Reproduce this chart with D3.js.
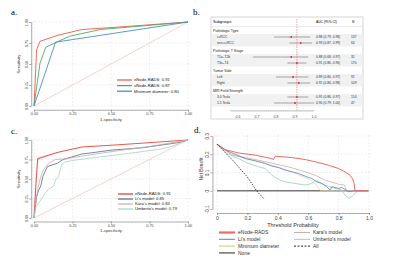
<!DOCTYPE html>
<html>
<head>
<meta charset="utf-8">
<script src="https://cdn.jsdelivr.net/npm/d3@7"></script>
<style>
  body { margin: 0; background: #fff; }
  svg { display: block; font-family: "Liberation Sans", Arial, sans-serif; }
  .grid line { stroke: #dcdcdc; stroke-width: 0.5; stroke-dasharray: 2,1.5; }
  .ax path, .ax line { stroke: #555; stroke-width: 0.5; }
  .ax text { fill: #444; }
</style>
</head>
<body>
<svg id="fig"></svg>
<script>
// ---- panel a: ROC, eNode-RADS vs uNode-RADS vs minimum diameter
const rocTicks = [0, 0.25, 0.5, 0.75, 1];
const aNames = ["eNode-RADS: 0.91", "uNode-RADS: 0.87", "Minimum diameter: 0.80"];
const aColors = ["#f26b5b", "#55a860", "#4a8fc9"];
const aEnodeFpr = [0, 0.017, 0.039, 0.15, 0.31, 0.55, 1];
const aEnodeTpr = [0, 0.67, 0.77, 0.84, 0.91, 0.94, 1];
const aUnodeFpr = [0, 0.039, 0.076, 0.23, 0.43, 1];
const aUnodeTpr = [0, 0.51, 0.70, 0.83, 0.91, 1];
const aDiamFpr = [0, 0.14, 1];
const aDiamTpr = [0, 0.76, 1];

// ---- panel c: ROC, eNode-RADS vs published models
const cNames = ["eNode-RADS: 0.91", "Li's model: 0.85", "Kara's model: 0.84", "Umberto's model: 0.79"];
const cColors = ["#f0574a", "#4c6b8e", "#c9a9a9", "#9fd6c0"];
const cEnodeFpr = [0, 0.013, 0.024, 0.15, 0.31, 0.55, 1];
const cEnodeTpr = [0, 0.45, 0.76, 0.84, 0.91, 0.94, 1];
const cLiFpr = [0, 0.007, 0.018, 0.029, 0.044, 0.057, 0.073, 0.088, 0.117, 0.15, 0.19, 0.24, 0.31, 0.39, 0.50, 0.70, 0.81, 0.95, 1];
const cLiTpr = [0, 0.12, 0.28, 0.35, 0.41, 0.53, 0.60, 0.66, 0.68, 0.70, 0.75, 0.78, 0.82, 0.84, 0.87, 0.90, 0.93, 0.97, 1];
const cKaraFpr = [0, 0.013, 0.029, 0.044, 0.062, 0.095, 0.14, 0.215, 0.30, 0.50, 0.76, 1];
const cKaraTpr = [0, 0.24, 0.41, 0.53, 0.62, 0.70, 0.75, 0.76, 0.79, 0.85, 0.92, 1];
const cUmbFpr = [0, 0.013, 0.040, 0.066, 0.095, 0.128, 0.14, 0.16, 0.17, 0.18, 0.20, 0.26, 0.37, 0.50, 0.66, 0.81, 0.90, 0.96, 1];
const cUmbTpr = [0, 0.14, 0.22, 0.30, 0.37, 0.41, 0.49, 0.53, 0.62, 0.68, 0.72, 0.74, 0.77, 0.80, 0.84, 0.88, 0.92, 0.97, 1];

// ---- panel b: forest plot of subgroups
const forestGroups = ["Pathologic Type", "Pathologic T Stage", "Tumor Side", "MRI Field Strength"];
const forestLabels = [["ccRCC", "non-ccRCC"], ["T1a\u2013T2b", "T3a\u2013T4"], ["Left", "Right"], ["3.0 Tesla", "1.5 Tesla"]];
const forestAuc = [[0.88, 0.93], [0.88, 0.91], [0.89, 0.92], [0.91, 0.90]];
const forestLow = [[0.79, 0.87], [0.68, 0.86], [0.80, 0.86], [0.86, 0.79]];
const forestHigh = [[0.98, 0.99], [0.97, 0.96], [0.97, 0.98], [0.97, 1.00]];
const forestN = [[137, 64], [31, 170], [92, 109], [154, 47]];
const forestRef = 0.91;
const forestTicks = [0.6, 0.7, 0.8, 0.9, 1.0];

// ---- panel d: decision curves
const dThr = [0, 0.055, 0.142, 0.252, 0.361, 0.372, 0.379, 0.387, 0.492, 0.58, 0.667, 0.733, 0.799, 0.842, 0.875, 0.891, 0.902, 0.908, 0.996];
const dEnode = [0.255, 0.225, 0.207, 0.195, 0.176, 0.171, 0.185, 0.189, 0.182, 0.171, 0.155, 0.14, 0.122, 0.104, 0.085, 0.067, 0.04, 0, 0];
const dLiThr = [0, 0.055, 0.12, 0.186, 0.252, 0.317, 0.361, 0.405, 0.449, 0.492, 0.536, 0.58, 0.624, 0.656, 0.689, 0.722, 0.744, 0.755, 0.777, 0.799, 0.821, 0.842, 0.864, 0.886, 0.908, 0.996];
const dLi = [0.255, 0.222, 0.2, 0.176, 0.164, 0.149, 0.135, 0.127, 0.113, 0.104, 0.095, 0.08, 0.067, 0.049, 0.04, 0.022, 0.004, 0.022, 0.018, 0.013, 0.018, 0.007, -0.005, -0.002, 0, 0];
const dDiamThr = [0, 0.1, 0.2, 0.3, 0.4, 0.5, 0.6, 0.65, 0.68, 0.996];
const dDiam = [0.255, 0.2, 0.175, 0.155, 0.13, 0.1, 0.065, 0.035, 0, 0];
const dKaraThr = [0, 0.098, 0.252, 0.47, 0.58, 0.646, 0.711, 0.799, 0.838, 0.853, 0.996];
const dKara = [0.255, 0.195, 0.171, 0.131, 0.104, 0.085, 0.058, 0.036, 0.031, 0, 0];
const dUmbThr = [0, 0.066, 0.142, 0.208, 0.274, 0.317, 0.339, 0.361, 0.405, 0.449, 0.514, 0.58, 0.624, 0.646, 0.668, 0.711, 0.755, 0.821, 0.842, 0.869, 0.898, 0.919, 0.996];
const dUmb = [0.255, 0.204, 0.176, 0.149, 0.131, 0.122, 0.104, 0.085, 0.062, 0.049, 0.04, 0.031, 0.04, 0.058, 0.049, 0.031, 0.018, 0.004, -0.024, -0.042, -0.024, -0.005, 0];
const dAllThr = [0, 0.1, 0.2, 0.26, 0.31];
const dAll = [0.255, 0.17, 0.075, 0, -0.045];
const dNoneThr = [0, 0.996];
const dNone = [0, 0];
const dXTicks = [0, 0.2, 0.4, 0.6, 0.8, 1.0];
const dYTicks = [-0.1, 0, 0.1, 0.2, 0.3];
const dNames = ["eNode-RADS", "Li's model", "Minimum diameter", "None", "Kara's model", "Umberto's model", "All"];
const dColors = ["#f26a5e", "#5a7fcf", "#e4dbaa", "#777777", "#d3abab", "#8fd4b6", "#222222"];

const zip = (xs, ys) => xs.map((x, i) => ({x: x, y: ys[i]}));

const svg = d3.select('#fig').attr('width', 400).attr('height', 263);
svg.append('rect').attr('width', 400).attr('height', 263).attr('fill', '#fff');

function panelLabel(txt, x, y) {
    svg.append('text')
        .attr('x', x).attr('y', y)
        .style('font-family', '"Liberation Serif", serif')
        .style('font-size', '9px')
        .text(txt);
}

function drawRoc(cfg) {
    const g = svg.append('g');
    const xs = d3.scaleLinear().domain([0, 1]).range(cfg.xr);
    const ys = d3.scaleLinear().domain([0, 1]).range(cfg.yr);

    // dashed grid
    const grid = g.append('g').attr('class', 'grid');
    grid.selectAll('.gx').data(rocTicks).join('line')
        .attr('x1', d => xs(d)).attr('x2', d => xs(d))
        .attr('y1', ys(1.02)).attr('y2', ys(-0.02));
    grid.selectAll('.gy').data(rocTicks).join('line')
        .attr('class', 'gy')
        .attr('x1', xs(-0.02)).attr('x2', xs(1.02))
        .attr('y1', d => ys(d)).attr('y2', d => ys(d));

    const xaxis = d3.axisBottom(xs).tickValues(rocTicks).tickFormat(d3.format('.2f'))
        .tickSize(2).tickSizeOuter(0).tickPadding(0.8);
    const yaxis = d3.axisLeft(ys).tickValues(rocTicks).tickFormat(d3.format('.2f'))
        .tickSize(2).tickSizeOuter(0);

    g.append('g').attr('class', 'ax')
        .attr('transform', `translate(0, ${ys(-0.045)})`)
        .call(xaxis)
        .call(a => a.selectAll('text').style('font-size', '3.8px'));
    g.append('g').attr('class', 'ax')
        .attr('transform', `translate(${xs(-0.018)}, 0)`)
        .call(yaxis)
        .call(a => a.selectAll('text').style('font-size', '3.8px')
            .attr('text-anchor', 'middle').attr('dy', 0)
            .attr('transform', 'rotate(-90)')
            .attr('x', 0).attr('y', -3.2));

    g.append('text')
        .attr('x', (cfg.xr[0] + cfg.xr[1]) / 2).attr('y', ys(-0.16)).attr('dy', '0.35em')
        .attr('text-anchor', 'middle').style('font-size', '4.2px').attr('fill', '#333')
        .text('1-specificity');
    g.append('text')
        .attr('transform', 'rotate(-90)')
        .attr('x', -(cfg.yr[0] + cfg.yr[1]) / 2).attr('y', xs(-0.09))
        .attr('text-anchor', 'middle').style('font-size', '4.2px').attr('fill', '#333')
        .text('Sensitivity');

    // chance diagonal
    g.append('line')
        .attr('x1', xs(0)).attr('y1', ys(0)).attr('x2', xs(1)).attr('y2', ys(1))
        .attr('stroke', '#fbc3c3').attr('stroke-width', 0.8);

    const line = d3.line().x(d => xs(d.x)).y(d => ys(d.y));
    cfg.series.forEach((s, i) => {
        g.append('path')
            .attr('d', line(s))
            .attr('fill', 'none')
            .attr('stroke', cfg.colors[i])
            .attr('stroke-width', cfg.widths[i]);
    });

    // legend
    const leg = g.append('g');
    cfg.names.forEach((n, i) => {
        const y = cfg.legY + i * cfg.legStep;
        leg.append('line')
            .attr('x1', cfg.legX).attr('x2', cfg.legX + 15)
            .attr('y1', y).attr('y2', y)
            .attr('stroke', cfg.colors[i]).attr('stroke-width', cfg.widths[i] + 0.4);
        leg.append('text')
            .attr('x', cfg.legX + 17).attr('y', y).attr('dy', '0.35em')
            .style('font-size', '4.2px').attr('fill', '#222')
            .text(n);
    });
}

drawRoc({
    xr: [34, 188], yr: [106, 22],
    series: [zip(aEnodeFpr, aEnodeTpr), zip(aUnodeFpr, aUnodeTpr), zip(aDiamFpr, aDiamTpr)],
    colors: aColors, widths: [1, 0.9, 0.9], names: aNames,
    legX: 117, legY: 80, legStep: 5.6
});

drawRoc({
    xr: [34, 188], yr: [218, 140],
    series: [zip(cEnodeFpr, cEnodeTpr), zip(cLiFpr, cLiTpr), zip(cKaraFpr, cKaraTpr), zip(cUmbFpr, cUmbTpr)],
    colors: cColors, widths: [1.1, 0.8, 0.8, 0.8], names: cNames,
    legX: 118, legY: 194, legStep: 5
});

// ---- forest plot
(function () {
    const g = svg.append('g');
    const xs = d3.scaleLinear().domain([0.6, 1.0]).range([238, 314]);
    const box = {x: 211, y: 17, w: 152, h: 102};
    g.append('rect')
        .attr('x', box.x).attr('y', box.y).attr('width', box.w).attr('height', box.h)
        .attr('fill', '#fff').attr('stroke', '#aaa').attr('stroke-width', 0.5);

    const fs = '3.3px';
    g.append('text').attr('x', 213).attr('y', 22).attr('dy', '0.35em').style('font-size', '3.8px').text('Subgroups');
    g.append('text').attr('x', 316).attr('y', 22).attr('dy', '0.35em').style('font-size', fs).text('AUC (95% CI)');
    g.append('text').attr('x', 352).attr('y', 22).attr('dy', '0.35em').style('font-size', fs).text('N');
    g.append('line').attr('x1', box.x).attr('x2', box.x + box.w).attr('y1', 26.5).attr('y2', 26.5)
        .attr('stroke', '#ccc').attr('stroke-width', 0.4);

    forestGroups.forEach((grp, gi) => {
        const gy = 31 + gi * 20;
        g.append('text').attr('x', 213).attr('y', gy).attr('dy', '0.35em')
            .style('font-size', '3.6px').attr('fill', '#222').text(grp);
        g.append('rect').attr('x', box.x + 0.5).attr('width', box.w - 1)
            .attr('y', gy + 3).attr('height', 12.5).attr('fill', '#f1f1f1');
        forestLabels[gi].forEach((lab, li) => {
            const y = gy + 6 + li * 6;
            g.append('text').attr('x', 217).attr('y', y).attr('dy', '0.35em')
                .style('font-size', fs).attr('fill', '#333').text(lab);
            const a = forestAuc[gi][li], lo = forestLow[gi][li], hi = forestHigh[gi][li];
            g.append('line').attr('x1', xs(lo)).attr('x2', xs(hi)).attr('y1', y).attr('y2', y)
                .attr('stroke', '#555').attr('stroke-width', 0.5);
            g.append('rect').attr('x', xs(a) - 0.8).attr('y', y - 0.8).attr('width', 1.6).attr('height', 1.6)
                .attr('fill', '#d6213a');
            g.append('text').attr('x', 316).attr('y', y).attr('dy', '0.35em')
                .style('font-size', fs).attr('fill', '#333')
                .text(`${a.toFixed(2)} (${lo.toFixed(2)}, ${hi.toFixed(2)})`);
            g.append('text').attr('x', 351).attr('y', y).attr('dy', '0.35em')
                .style('font-size', fs).attr('fill', '#333').text(forestN[gi][li]);
        });
    });

    g.append('line')
        .attr('x1', xs(forestRef)).attr('x2', xs(forestRef))
        .attr('y1', 19).attr('y2', 110)
        .attr('stroke', '#e8485a').attr('stroke-width', 0.5).attr('stroke-dasharray', '1.5,1');

    // axis with fine minor ticks
    const minor = d3.range(56, 101).map(d => d / 100);
    const ax = g.append('g').attr('transform', 'translate(0, 111)');
    ax.append('line').attr('x1', xs(0.56)).attr('x2', xs(1.0)).attr('stroke', '#777').attr('stroke-width', 0.4);
    ax.selectAll('.mt').data(minor).join('line')
        .attr('x1', d => xs(d)).attr('x2', d => xs(d)).attr('y1', -1).attr('y2', 0)
        .attr('stroke', '#777').attr('stroke-width', 0.3);
    ax.selectAll('.tl').data(forestTicks).join('text')
        .attr('x', d => xs(d)).attr('y', 6.5)
        .attr('text-anchor', 'middle').style('font-size', '3.5px').attr('fill', '#444')
        .text(d => d.toFixed(1));
})();

// ---- decision curve
(function () {
    const g = svg.append('g');
    const xs = d3.scaleLinear().domain([0, 1]).range([217, 369]);
    const ys = d3.scaleLinear().domain([-0.1, 0.3]).range([209, 136]);

    const grid = g.append('g').attr('class', 'grid');
    grid.selectAll('.gx').data(dXTicks).join('line')
        .attr('x1', d => xs(d)).attr('x2', d => xs(d))
        .attr('y1', ys(0.305)).attr('y2', ys(-0.11));
    grid.selectAll('.gy').data(dYTicks).join('line')
        .attr('class', 'gy')
        .attr('x1', xs(-0.02)).attr('x2', xs(1.02))
        .attr('y1', d => ys(d)).attr('y2', d => ys(d));

    g.append('g').attr('class', 'ax')
        .attr('transform', `translate(0, ${ys(-0.122)})`)
        .call(d3.axisBottom(xs).tickValues(dXTicks).tickFormat(d => d === 0 ? '0' : d.toFixed(1))
            .tickSize(2).tickSizeOuter(0).tickPadding(1))
        .call(a => a.selectAll('text').style('font-size', '5px'));
    g.append('g').attr('class', 'ax')
        .attr('transform', `translate(${xs(-0.03)}, 0)`)
        .call(d3.axisLeft(ys).tickValues(dYTicks).tickFormat(d => d === 0 ? '0' : d.toFixed(1))
            .tickSize(2).tickSizeOuter(0))
        .call(a => a.selectAll('text').style('font-size', '4.8px')
            .attr('text-anchor', 'middle').attr('dy', 0)
            .attr('transform', 'rotate(-90)')
            .attr('x', 0).attr('y', -3.5));

    g.append('text')
        .attr('x', xs(0.5)).attr('y', 225).attr('dy', '0.35em')
        .attr('text-anchor', 'middle').style('font-size', '5.5px').attr('fill', '#333')
        .text('Threshold Probability');
    g.append('text')
        .attr('transform', 'rotate(-90)')
        .attr('x', -ys(0.12)).attr('y', 202.5)
        .attr('text-anchor', 'middle').style('font-size', '4.6px').attr('fill', '#333')
        .text('Net Benefit');

    const line = d3.line().x(d => xs(d.x)).y(d => ys(d.y));
    const series = [
        {d: zip(dNoneThr, dNone), c: dColors[3], w: 1.5},
        {d: zip(dDiamThr, dDiam), c: dColors[2], w: 0.8},
        {d: zip(dKaraThr, dKara), c: dColors[4], w: 0.8},
        {d: zip(dUmbThr, dUmb), c: dColors[5], w: 0.8},
        {d: zip(dLiThr, dLi), c: dColors[1], w: 0.8},
        {d: zip(dThr, dEnode), c: dColors[0], w: 1},
        {d: zip(dAllThr, dAll), c: dColors[6], w: 0.8, dash: '1.6,1.2'}
    ];
    series.forEach(s => {
        g.append('path').attr('d', line(s.d))
            .attr('fill', 'none').attr('stroke', s.c).attr('stroke-width', s.w)
            .attr('stroke-dasharray', s.dash || null);
    });

    // legend, two columns
    const legX = [219, 294];
    const legW = [2.2, 1, 1.6, 1.6, 1, 1, 1];
    dNames.forEach((n, i) => {
        const col = i < 4 ? 0 : 1;
        const row = i < 4 ? i : i - 4;
        const y = 232.5 + row * 6.8;
        g.append('line')
            .attr('x1', legX[col]).attr('x2', legX[col] + 16)
            .attr('y1', y).attr('y2', y)
            .attr('stroke', dColors[i]).attr('stroke-width', legW[i])
            .attr('stroke-dasharray', i === 6 ? '2,1.5' : null);
        g.append('text')
            .attr('x', legX[col] + 19).attr('y', y).attr('dy', '0.35em')
            .style('font-size', '5px').attr('fill', '#333')
            .text(n);
    });
})();

panelLabel('a.', 11, 15);
panelLabel('b.', 193, 15);
panelLabel('c.', 11, 134);
panelLabel('d.', 194, 133);
</script>
</body>
</html>
